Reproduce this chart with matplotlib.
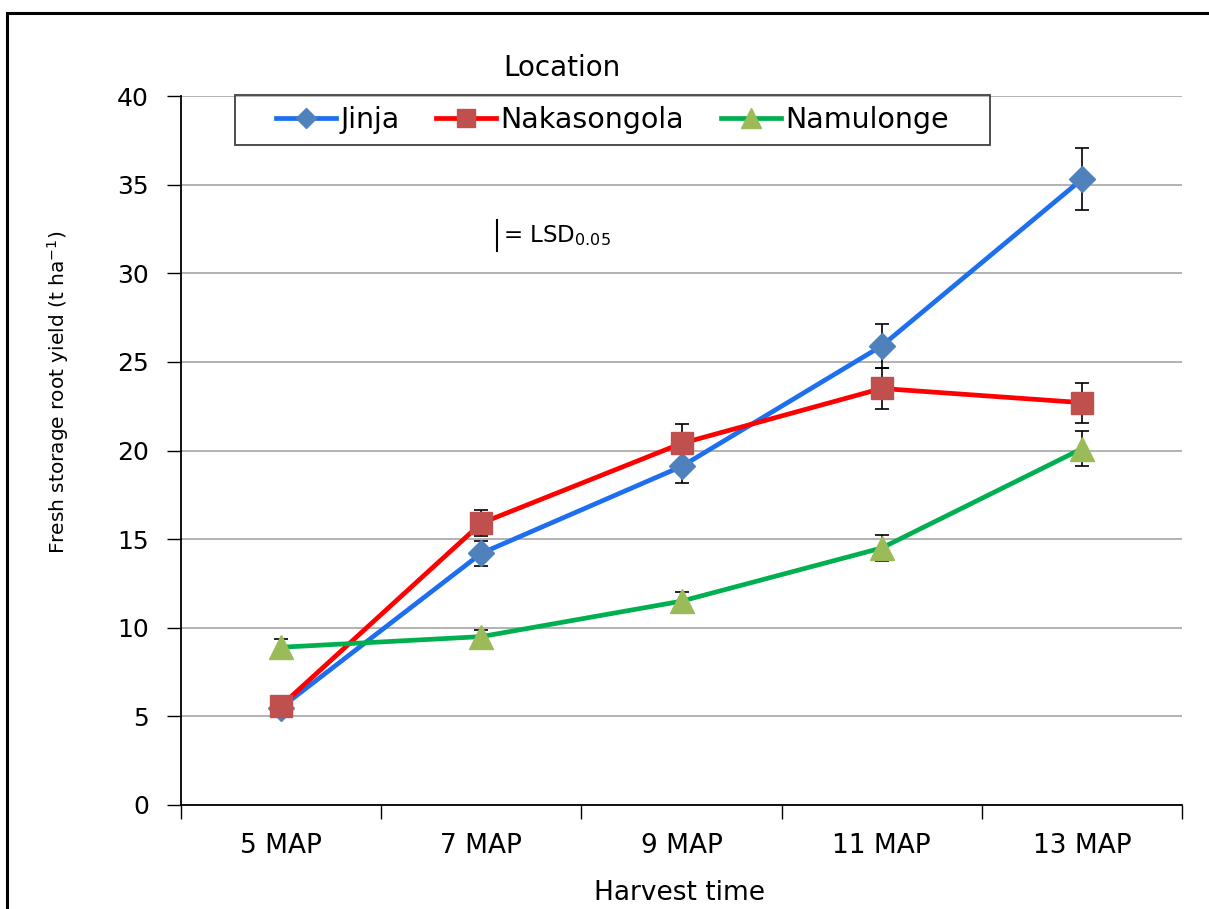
import matplotlib
matplotlib.use("Agg")
import matplotlib.pyplot as plt
from matplotlib.lines import Line2D
from matplotlib.patches import Rectangle

# Harvest times and mean fresh storage root yield (t/ha) per location
harvest_times = ["5 MAP", "7 MAP", "9 MAP", "11 MAP", "13 MAP"]
jinja = [5.5, 14.2, 19.1, 25.9, 35.3]
nakasongola = [5.6, 15.9, 20.4, 23.5, 22.7]
namulonge = [8.9, 9.5, 11.5, 14.5, 20.1]

# LSD (0.05) half-bars
jinja_lsd = [0.4, 0.72, 0.96, 1.25, 1.75]
nakasongola_lsd = [0.4, 0.72, 1.07, 1.16, 1.13]
namulonge_lsd = [0.45, 0.4, 0.54, 0.72, 1.0]

yticks = [0, 5, 10, 15, 20, 25, 30, 35, 40]

plt.rcParams["font.family"] = ["DejaVu Sans"]
plt.rcParams["mathtext.fontset"] = "dejavusans"

W, H = 1209, 909
fig = plt.figure(figsize=(W / 100, H / 100), dpi=100)
ax = fig.add_axes([181 / W, 1 - 805 / H, (1182 - 181) / W, (805 - 96) / H])

x = list(range(len(harvest_times)))
series = [
    ("Jinja", jinja, jinja_lsd, "#1d6ff0", "#4f81bd", "D", 13.5, 0.72),
    ("Nakasongola", nakasongola, nakasongola_lsd, "#ff0000", "#c0504d", "s", 16.5, 0.8),
    ("Namulonge", namulonge, namulonge_lsd, "#00b050", "#9bbb59", "^", 17.5, 0.8),
]

handles = []
for name, vals, lsd, lcol, mcol, mk, ms, leg_scale in series:
    ax.plot(x, vals, color=lcol, lw=3.4, zorder=2, solid_capstyle="round")
    ax.errorbar(x, vals, yerr=lsd, fmt="none", ecolor="black", elinewidth=1.2,
                capsize=5, capthick=1.2, zorder=3)
    ax.plot(x, vals, ls="none", marker=mk, ms=ms, mfc=mcol, mec=mcol, zorder=4)
    handles.append(Line2D([], [], color=lcol, lw=3.4, marker=mk, ms=ms * leg_scale,
                          mfc=mcol, mec=mcol, label=name))

ax.set_xlim(-0.5, len(harvest_times) - 0.5)
ax.set_ylim(0, 40)
ax.set_yticks(yticks)
ax.set_yticklabels([str(v) for v in yticks], fontsize=18)
ax.yaxis.grid(True, color="#a6a6a6", lw=1.2)
ax.set_axisbelow(True)

# category boundaries carry the tick marks, names sit between them
ax.set_xticks([i - 0.5 for i in range(len(harvest_times) + 1)])
ax.set_xticklabels([])
ax.set_xticks(x, minor=True)
ax.set_xticklabels(harvest_times, minor=True, fontsize=19)
ax.tick_params(axis="x", which="major", length=10, width=1, color="black", direction="out")
ax.tick_params(axis="x", which="minor", length=0, pad=20)
ax.tick_params(axis="y", length=10, width=1, direction="out", pad=13)

for side in ("top", "right"):
    ax.spines[side].set_visible(False)
for side in ("left", "bottom"):
    ax.spines[side].set_linewidth(1.3)

fig.text(58 / W, 1 - 392 / H, "Fresh storage root yield (t ha$^{-1}$)", rotation=90,
         ha="center", va="center", fontsize=14.5)
fig.text(679 / W, 1 - 893 / H, "Harvest time", ha="center", va="center", fontsize=19)

# legend with its title and frame
fig.text(562 / W, 1 - 68 / H, "Location", ha="center", va="center", fontsize=20)
fig.add_artist(Rectangle((235 / W, 1 - 145 / H), 755 / W, 50 / H, transform=fig.transFigure,
                         fill=False, edgecolor="#404040", lw=1.3))
fig.legend(handles=handles, loc="center left", ncol=3,
           bbox_to_anchor=(276 / W, 1 - 120 / H), borderaxespad=0, borderpad=0,
           fontsize=20.5, handlelength=2.1, handletextpad=0.15, columnspacing=1.3,
           frameon=False)

# LSD key
fig.add_artist(Line2D([497 / W, 497 / W], [1 - 220 / H, 1 - 251 / H], color="black", lw=1.5))
fig.text(503 / W, 1 - 236 / H, "= LSD$_{0.05}$", ha="left", va="center", fontsize=16.5)

# outer frame
top = 1 - 13 / H
fig.add_artist(Line2D([7 / W, 7 / W], [0, top], color="black", lw=2.2))
fig.add_artist(Line2D([7 / W, 1], [top, top], color="black", lw=2.2))

fig.savefig("out.png", dpi=100)
